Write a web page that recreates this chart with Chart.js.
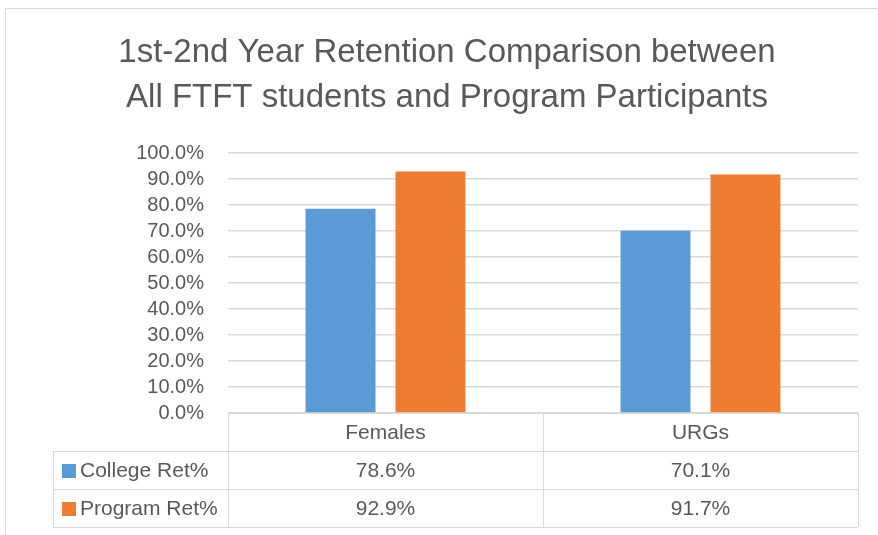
<!DOCTYPE html>
<html>
<head>
<meta charset="utf-8">
<script src="https://cdn.jsdelivr.net/npm/chart.js@4"></script>
<style>
html, body { margin: 0; padding: 0; background: #fff; }
</style>
</head>
<body>
<canvas id="chart" width="878" height="535"></canvas>
<script>
const titleLines = ["1st-2nd Year Retention Comparison between", "All FTFT students and Program Participants"];
const categories = ["Females", "URGs"];
const seriesNames = ["College Ret%", "Program Ret%"];
const collegeRet = [78.6, 70.1];
const programRet = [92.9, 91.7];
const seriesColors = ["#5b9bd5", "#ed7d31"];

const FONT = "'Liberation Sans', Arial, sans-serif";
const TEXT = "#595959";
const LINE = "#d9d9d9";

// frame, title and the data table under the plot
const tablePlugin = {
    id: "tablePlugin",
    beforeDraw(chart) {
        const ctx = chart.ctx;
        ctx.save();
        ctx.fillStyle = "#fff";
        ctx.fillRect(0, 0, chart.width, chart.height);
        ctx.strokeStyle = LINE;
        ctx.lineWidth = 1;
        ctx.beginPath();
        ctx.moveTo(5.5, chart.height);
        ctx.lineTo(5.5, 8.5);
        ctx.lineTo(chart.width, 8.5);
        ctx.stroke();

        ctx.fillStyle = TEXT;
        ctx.font = "33px " + FONT;
        ctx.textAlign = "center";
        ctx.textBaseline = "middle";
        titleLines.forEach((t, i) => ctx.fillText(t, 447, 53 + i * 45));
        ctx.restore();
    },
    afterDraw(chart) {
        const ctx = chart.ctx;
        const area = chart.chartArea;
        const x = chart.scales.x;
        const legendLeft = 53;
        const rowH = 38;
        const rows = [area.bottom, area.bottom + rowH, area.bottom + rowH * 2, area.bottom + rowH * 3];

        const bounds = [area.left];
        for (let i = 0; i < categories.length - 1; i++) {
            bounds.push((x.getPixelForValue(i) + x.getPixelForValue(i + 1)) / 2);
        }
        bounds.push(area.right);

        ctx.save();
        ctx.strokeStyle = LINE;
        ctx.lineWidth = 1;
        ctx.beginPath();
        ctx.moveTo(area.left, rows[0] + 0.5);
        ctx.lineTo(area.right, rows[0] + 0.5);
        for (let r = 1; r < rows.length; r++) {
            ctx.moveTo(legendLeft, rows[r] + 0.5);
            ctx.lineTo(area.right, rows[r] + 0.5);
        }
        ctx.moveTo(legendLeft + 0.5, rows[1]);
        ctx.lineTo(legendLeft + 0.5, rows[3]);
        bounds.forEach(b => {
            ctx.moveTo(Math.round(b) + 0.5, rows[0]);
            ctx.lineTo(Math.round(b) + 0.5, rows[3]);
        });
        ctx.stroke();

        ctx.fillStyle = TEXT;
        ctx.font = "21px " + FONT;
        ctx.textBaseline = "middle";
        ctx.textAlign = "center";
        categories.forEach((c, i) => {
            ctx.fillText(c, (bounds[i] + bounds[i + 1]) / 2, rows[0] + rowH / 2 + 1);
        });

        chart.data.datasets.forEach((ds, r) => {
            const mid = rows[r + 1] + rowH / 2 + 1;
            ctx.fillStyle = seriesColors[r];
            ctx.fillRect(62, mid - 7, 14, 14);
            ctx.fillStyle = TEXT;
            ctx.textAlign = "left";
            ctx.fillText(ds.label, 80, mid);
            ctx.textAlign = "center";
            ds.data.forEach((v, i) => {
                ctx.fillText(v.toFixed(1) + "%", (bounds[i] + bounds[i + 1]) / 2, mid);
            });
        });
        ctx.restore();
    }
};

new Chart(document.getElementById("chart"), {
    type: "bar",
    data: {
        labels: categories,
        datasets: [
            { label: seriesNames[0], data: collegeRet, backgroundColor: seriesColors[0] },
            { label: seriesNames[1], data: programRet, backgroundColor: seriesColors[1] }
        ]
    },
    options: {
        responsive: false,
        animation: false,
        categoryPercentage: 0.571,
        barPercentage: 0.778,
        layout: { padding: { top: 153, right: 20, bottom: 122, left: 0 } },
        plugins: {
            legend: { display: false },
            title: { display: false },
            tooltip: { enabled: false }
        },
        scales: {
            x: { display: false },
            y: {
                min: 0,
                max: 100,
                ticks: {
                    stepSize: 10,
                    autoSkip: false,
                    padding: 24,
                    color: TEXT,
                    font: { family: FONT, size: 20 },
                    callback: v => v.toFixed(1) + "%"
                },
                grid: { color: LINE, lineWidth: 1.5, drawTicks: false },
                border: { display: false },
                afterFit(scale) { scale.width = 228; }
            }
        }
    },
    plugins: [tablePlugin]
});
</script>
</body>
</html>
